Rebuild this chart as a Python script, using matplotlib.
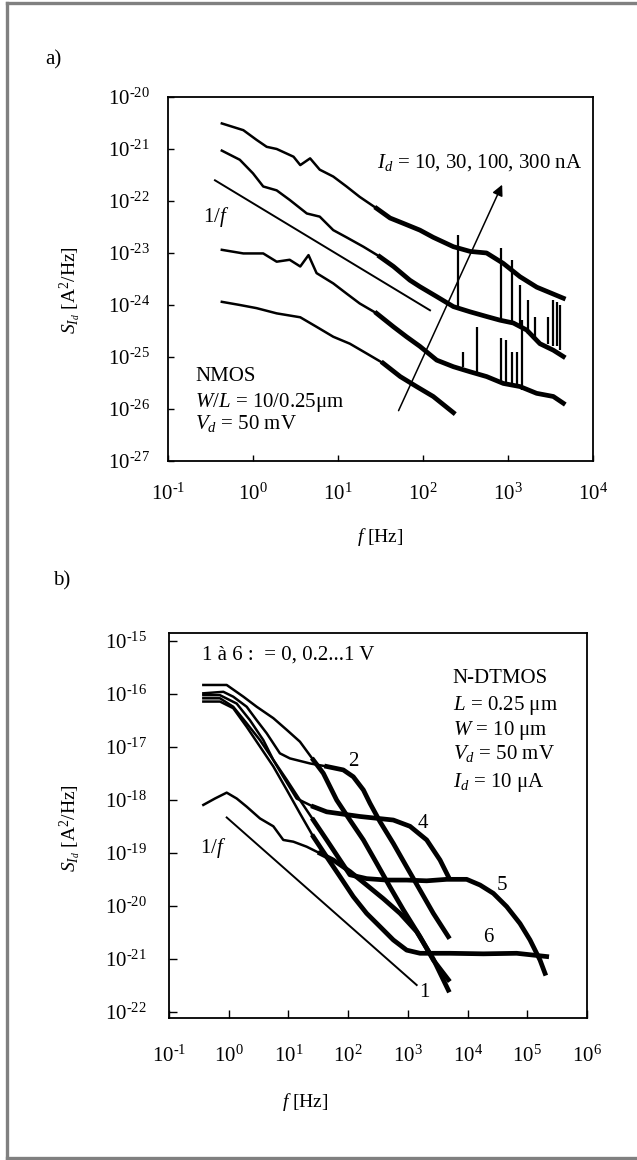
import numpy as np
import matplotlib
matplotlib.use("Agg")
import matplotlib.pyplot as plt
from matplotlib.lines import Line2D

plt.rcParams["font.family"] = ["Liberation Serif", "DejaVu Serif"]
plt.rcParams["mathtext.fontset"] = "custom"
plt.rcParams["mathtext.rm"] = "Liberation Serif"
plt.rcParams["mathtext.it"] = "Liberation Serif:italic"
plt.rcParams["axes.unicode_minus"] = False

# ---------------- a) NMOS W/L = 10/0.25um, Vd = 50 mV ----------------
f_300nA = [0.43, 0.77, 1.1, 1.45, 1.9, 3.0, 3.6, 4.7, 6.1, 8.8, 12.6, 18, 28.5,
           41, 59, 92, 132, 228, 360, 560, 881, 1384, 2180, 4480]
S_300nA = [3.1e-21, 2.3e-21, 1.5e-21, 1.1e-21, 1.0e-21, 7.1e-22, 4.9e-22, 6.6e-22,
           4.0e-22, 2.95e-22, 1.9e-22, 1.2e-22, 7.2e-23, 4.7e-23, 3.7e-23, 2.75e-23,
           2.0e-23, 1.32e-23, 1.07e-23, 1.0e-23, 6.3e-24, 3.5e-24, 2.2e-24, 1.35e-24]

f_100nA = [0.43, 0.70, 1.0, 1.32, 1.9, 2.7, 4.3, 6.1, 8.8, 12.6, 19.9, 31, 45, 70,
           92, 145, 228, 357, 561, 805, 1156, 1660, 2377, 3415, 4480]
S_100nA = [9.3e-22, 6.2e-22, 3.4e-22, 1.9e-22, 1.6e-22, 1.05e-22, 5.75e-23, 5.0e-23,
           2.75e-23, 2.0e-23, 1.32e-23, 8.5e-24, 5.5e-24, 3.0e-24, 2.25e-24, 1.45e-24,
           9.3e-25, 7.4e-25, 6.0e-25, 5.1e-25, 4.5e-25, 3.3e-25, 1.8e-25, 1.35e-25,
           1.02e-25]

f_30nA = [0.43, 0.77, 1.32, 1.9, 2.7, 3.6, 4.5, 5.6, 8.8, 12.6, 18, 28.5, 45, 64,
          92, 145, 228, 357, 561, 881, 1384, 2173, 3415, 4480]
S_30nA = [1.15e-23, 9.8e-24, 9.8e-24, 6.8e-24, 7.4e-24, 5.5e-24, 9.1e-24, 4.1e-24,
          2.6e-24, 1.66e-24, 1.07e-24, 6.9e-25, 3.8e-25, 2.45e-25, 1.6e-25, 8.7e-26,
          6.5e-26, 5.2e-26, 4.2e-26, 3.1e-26, 2.7e-26, 2.0e-26, 1.74e-26, 1.29e-26]

f_10nA = [0.43, 0.70, 1.1, 1.9, 3.6, 5.6, 8.8, 13.8, 21.7, 34, 54, 84, 132, 228]
S_10nA = [1.15e-24, 1.0e-24, 8.7e-25, 6.9e-25, 5.8e-25, 3.8e-25, 2.45e-25, 1.8e-25,
          1.17e-25, 7.6e-26, 4.2e-26, 2.7e-26, 1.74e-26, 8.5e-27]

# mains pick-up lines on the 100 nA and 30 nA spectra
spk100_f = [261, 828, 1124, 1384, 1734, 2080, 2981, 3355, 3741, 4096]
spk100_lo = [9.3e-25, 5.1e-25, 4.8e-25, 3.8e-25, 2.8e-25, 2.45e-25, 1.8e-25,
             1.6e-25, 1.6e-25, 1.35e-25]
spk100_hi = [2.2e-23, 1.23e-23, 7.4e-24, 2.4e-24, 1.26e-24, 6.0e-25, 6.0e-25,
             1.26e-24, 1.15e-24, 1.0e-24]
spk30_f = [298, 428, 828, 946, 1104, 1265, 1448]
spk30_lo = [6.5e-26, 4.9e-26, 3.1e-26, 2.9e-26, 2.7e-26, 2.5e-26, 2.3e-26]
spk30_hi = [1.26e-25, 3.8e-25, 2.3e-25, 2.1e-25, 1.26e-25, 1.26e-25, 5.1e-25]

ref_a_f = [0.357, 121]
ref_a_S = [2.5e-22, 7.9e-25]
arrow_f = [50, 881]
arrow_S = [8.3e-27, 2.3e-22]

# ---------------- b) N-DTMOS, curves 1..6 ----------------
f_c1 = [0.376, 0.589, 0.925, 1.36, 2.0, 3.34, 5.59, 8.2, 12.1, 20.2, 33.8, 56.5,
        107, 204, 389, 739, 1406, 2672, 4764]
S_c1 = [8.1e-19, 1.07e-18, 1.38e-18, 1.07e-18, 7.5e-19, 4.5e-19, 3.2e-19, 1.77e-19,
        1.64e-19, 1.32e-19, 9.9e-20, 7.4e-20, 4.5e-20, 2.5e-20, 1.38e-20, 7.3e-21,
        3.3e-21, 1.0e-21, 2.6e-22]

f_c2 = [0.376, 0.813, 1.19, 2.0, 2.94, 4.32, 7.2, 10.6, 23, 43.7, 83, 122, 180, 232,
        342, 571, 955, 1600, 2672, 4764]
S_c2 = [1.03e-16, 1.1e-16, 8.9e-17, 5.75e-17, 3.2e-17, 1.82e-17, 7.6e-18, 6.1e-18,
        4.9e-18, 4.3e-18, 3.7e-18, 2.75e-18, 1.55e-18, 8.7e-19, 3.9e-19, 1.52e-19,
        5.5e-20, 2.0e-20, 7.3e-21, 2.65e-21]

f_c3 = [0.376, 0.925, 1.76, 2.94, 5.59, 9.4, 15.6, 26.1, 38.4, 64.3, 107, 180, 301,
        502, 840, 1600, 2672, 4764]
S_c3 = [1.48e-16, 1.48e-16, 8.9e-17, 5.75e-17, 3.5e-17, 2.1e-17, 1.26e-17, 5.7e-18,
        3.2e-18, 1.0e-18, 4.2e-19, 1.77e-19, 6.4e-20, 2.3e-20, 8.5e-21, 2.65e-21,
        9.6e-22, 4.1e-22]

f_c4 = [0.376, 0.714, 1.36, 2.27, 3.80, 5.59, 8.2, 13.7, 26.1, 43.7, 158, 571,
        1087, 2067, 3459, 4764]
S_c4 = [9.5e-17, 9.5e-17, 6.6e-17, 3.2e-17, 1.35e-17, 5.7e-18, 2.75e-18, 1.07e-18,
        7.5e-19, 6.0e-19, 4.9e-19, 4.2e-19, 3.2e-19, 1.77e-19, 7.4e-20, 3.6e-20]

f_c5 = [0.376, 0.714, 1.19, 2.0, 3.34, 5.59, 9.4, 15.6, 26.1, 43.7, 73.1, 107, 204,
        442, 955, 2067, 4467, 9660, 16180, 27040, 45190, 75510, 111200, 163400,
        198100]
S_c5 = [8.3e-17, 8.3e-17, 5.75e-17, 2.8e-17, 1.35e-17, 5.7e-18, 2.4e-18, 1.0e-18,
        4.2e-19, 1.77e-19, 7.4e-20, 3.9e-20, 3.3e-20, 3.1e-20, 3.1e-20, 3.0e-20,
        3.2e-20, 3.2e-20, 2.5e-20, 1.74e-20, 9.8e-21, 4.7e-21, 2.3e-21, 9.6e-22,
        5.4e-22]

f_c6 = [0.376, 0.714, 1.19, 2.0, 3.34, 5.59, 9.4, 15.6, 26.1, 43.7, 73.1, 122, 204,
        342, 571, 955, 1600, 5082, 18370, 66530, 211300]
S_c6 = [7.2e-17, 7.2e-17, 5.4e-17, 2.4e-17, 1.02e-17, 4.3e-18, 1.55e-18, 5.6e-19,
        2.04e-19, 8.5e-20, 3.6e-20, 1.51e-20, 7.3e-21, 4.1e-21, 2.3e-21, 1.48e-21,
        1.29e-21, 1.29e-21, 1.26e-21, 1.29e-21, 1.12e-21]

ref_b_f = [0.925, 1406]
ref_b_S = [4.7e-19, 3.25e-22]

xexp_a = [-1, 0, 1, 2, 3, 4]
yexp_a = [-27, -26, -25, -24, -23, -22, -21, -20]
xexp_b = [-1, 0, 1, 2, 3, 4, 5, 6]
yexp_b = [-22, -21, -20, -19, -18, -17, -16, -15]


def dec_label(e):
    # short hyphen in the exponent, as typeset in the paper
    return rf"$10^{{{str(e).replace('-', '‐')}}}$"


def draw_spectrum(ax, f, s, f_noisy):
    f = np.asarray(f)
    s = np.asarray(s)
    ax.plot(f, s, color="k", lw=1.8, solid_joinstyle="round")
    m = f >= f_noisy
    ax.plot(f[m], s[m], color="k", lw=3.4, solid_joinstyle="round")


def style_axes(ax, xexp, yexp, ticklen, xpad, ypad):
    ax.set_xscale("log")
    ax.set_yscale("log")
    ax.set_xticks([10.0 ** e for e in xexp])
    ax.set_xticklabels([dec_label(e) for e in xexp])
    ax.set_yticks([10.0 ** e for e in yexp])
    ax.set_yticklabels([dec_label(e) for e in yexp])
    ax.xaxis.set_minor_locator(plt.NullLocator())
    ax.yaxis.set_minor_locator(plt.NullLocator())
    ax.tick_params(axis="both", direction="in", length=ticklen, width=1.0,
                   labelsize=15, top=False, right=False)
    ax.tick_params(axis="x", pad=xpad)
    ax.tick_params(axis="y", pad=ypad)
    for sp in ax.spines.values():
        sp.set_linewidth(1.3)


fig = plt.figure(figsize=(6.37, 11.6), dpi=100)

# page frame
for xs, ys in [([0.011, 0.011], [0.002, 0.997]),
               ([0.011, 1.0], [0.997, 0.997]),
               ([0.011, 1.0], [0.0015, 0.0015])]:
    fig.add_artist(Line2D(xs, ys, transform=fig.transFigure, color="#808080", lw=2.4))

# ---- panel a ----
ax1 = fig.add_axes([0.2637, 0.6026, 0.6672, 0.3138])
for f, s in [(f_300nA, S_300nA), (f_100nA, S_100nA), (f_30nA, S_30nA), (f_10nA, S_10nA)]:
    draw_spectrum(ax1, f, s, 25)
ax1.vlines(spk100_f, spk100_lo, spk100_hi, color="k", lw=1.6)
ax1.vlines(spk30_f, spk30_lo, spk30_hi, color="k", lw=1.6)
ax1.plot(ref_a_f, ref_a_S, color="k", lw=1.4)
ax1.annotate("", xy=(arrow_f[1], arrow_S[1]), xytext=(arrow_f[0], arrow_S[0]),
             arrowprops=dict(arrowstyle="-|>", color="k", lw=1.1, mutation_scale=16))
ax1.set_xlim(1e-1, 1e4)
ax1.set_ylim(1e-27, 1e-20)
style_axes(ax1, xexp_a, yexp_a, 4, 16, 13)

ax1.text(0.492, 0.821, r"$I_d$ = 10, 30, 100, 300 nA", transform=ax1.transAxes,
         fontsize=15, ha="left", va="center")
ax1.text(0.082, 0.670, r"1/$f$", transform=ax1.transAxes, fontsize=15,
         ha="left", va="center")
ax1.text(0.064, 0.231, "NMOS", transform=ax1.transAxes, fontsize=15,
         ha="left", va="center")
ax1.text(0.064, 0.162, r"$W/L$ = 10/0.25μm", transform=ax1.transAxes, fontsize=15,
         ha="left", va="center")
ax1.text(0.064, 0.104, r"$V_d$ = 50 mV", transform=ax1.transAxes, fontsize=15,
         ha="left", va="center")

ax1.set_xlabel(r"$f$ [Hz]", fontsize=14)
ax1.xaxis.set_label_coords(0.5, -0.179)
ax1.set_ylabel(r"$S_{I_d}$ [A$^2$/Hz]", fontsize=14)
ax1.yaxis.set_label_coords(-0.20, 0.47)

# ---- panel b ----
ax2 = fig.add_axes([0.2653, 0.1224, 0.6562, 0.3319])
for f, s in [(f_c1, S_c1), (f_c2, S_c2), (f_c3, S_c3), (f_c4, S_c4),
             (f_c5, S_c5), (f_c6, S_c6)]:
    draw_spectrum(ax2, f, s, 25)
ax2.plot(ref_b_f, ref_b_S, color="k", lw=1.4)
ax2.set_xlim(1e-1, 1e6)
ax2.set_ylim(10 ** -22.11, 10 ** -14.85)
style_axes(ax2, xexp_b, yexp_b, 6, 20, 16)

ax2.text(0.079, 0.943, "1 à 6 :  = 0, 0.2...1 V", transform=ax2.transAxes,
         fontsize=15, ha="left", va="center")
for y, txt in [(0.883, "N-DTMOS"), (0.813, r"$L$ = 0.25 μm"), (0.748, r"$W$ = 10 μm"),
               (0.688, r"$V_d$ = 50 mV"), (0.613, r"$I_d$ = 10 μA")]:
    ax2.text(0.679, y, txt, transform=ax2.transAxes, fontsize=15,
             ha="left", va="center")
for x, y, txt in [(0.440, 0.665, "2"), (0.608, 0.506, "4"), (0.797, 0.345, "5"),
                  (0.763, 0.208, "6"), (0.612, 0.065, "1")]:
    ax2.text(x, y, txt, transform=ax2.transAxes, fontsize=15, ha="center", va="center")
ax2.text(0.074, 0.442, r"1/$f$", transform=ax2.transAxes, fontsize=15,
         ha="left", va="center")

ax2.set_xlabel(r"$f$ [Hz]", fontsize=14)
ax2.xaxis.set_label_coords(0.325, -0.19)
ax2.set_ylabel(r"$S_{I_d}$ [A$^2$/Hz]", fontsize=14)
ax2.yaxis.set_label_coords(-0.205, 0.494)

fig.text(53 / 637, 1 - 60 / 1160, "a)", fontsize=15, ha="center", va="center")
fig.text(62 / 637, 1 - 581 / 1160, "b)", fontsize=15, ha="center", va="center")

fig.savefig("out.png", dpi=100)
plt.close(fig)
